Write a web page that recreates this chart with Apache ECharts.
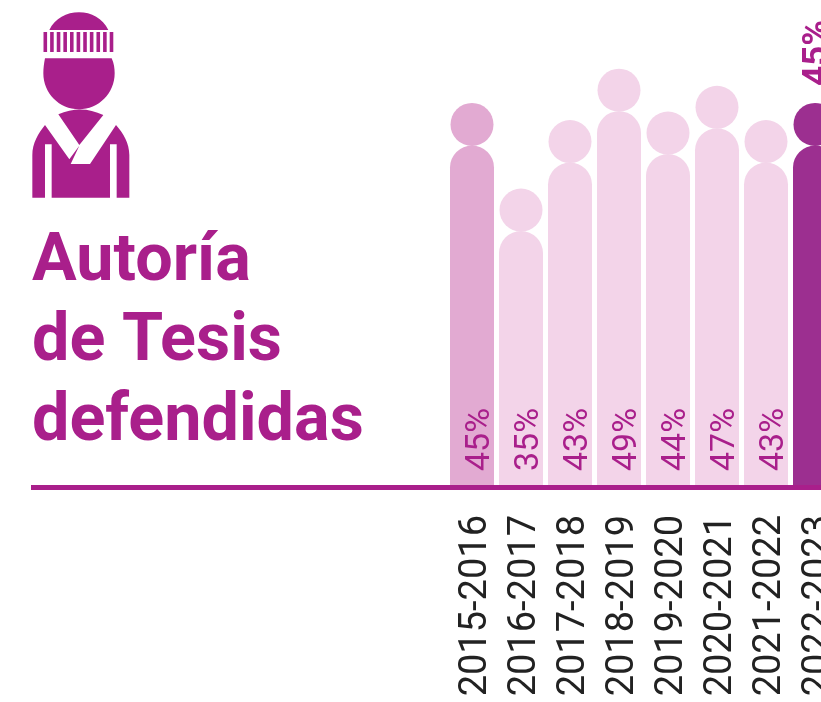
<!DOCTYPE html>
<html>
<head>
<meta charset="utf-8">
<style>
  html, body { margin: 0; background: #fff; }
  #main { width: 821px; height: 702px; }
</style>
<script src="https://cdn.jsdelivr.net/npm/echarts@6/dist/echarts.min.js"></script>
</head>
<body>
<div id="main"></div>
<script>
var years = ['2015-2016', '2016-2017', '2017-2018', '2018-2019', '2019-2020', '2020-2021', '2021-2022', '2022-2023'];
var values = [45, 35, 43, 49, 44, 47, 43, 45];
var barColors = ['#e2aad2', '#f3d4e9', '#f3d4e9', '#f3d4e9', '#f3d4e9', '#f3d4e9', '#f3d4e9', '#9c2f90'];
var titleLines = ['Autoría', 'de Tesis', 'defendidas'];

var purple = '#a91f8b';

// icono de la persona, coordenadas del recorte x3
var iconPath =
    'M88 90 C105 55 140 37 177 37 C214 37 248 55 265 90 Z ' +
    'M75 175 L275 175 C282 190 284 205 284 220 C284 280 236 328 177 328 C118 328 70 280 70 220 C70 205 72 190 75 175 Z ' +
    'M115 343 C160 323 205 323 250 345 L178 435 Z ' +
    'M75 375 L148 478 L178 437 L152 492 L210 492 L288 375 C310 400 328 430 328 465 L328 593 L290 593 L290 433 L270 433 L270 593 L95 593 L95 433 L75 433 L75 593 L37 593 L37 465 C37 430 55 400 75 375 Z';

echarts.graphic.registerShape('personIcon', echarts.graphic.extendPath(iconPath, {}));

var stripes = [];
for (var i = 0; i < 11; i++) {
    stripes.push({
        type: 'rect',
        x: 43.5 + i * 6.62,
        y: 32,
        shape: { width: 3.6, height: 20 },
        style: { fill: purple }
    });
}

var chart = echarts.init(document.getElementById('main'));
chart.setOption({
    animation: false,
    backgroundColor: '#fff',
    textStyle: { fontFamily: 'Roboto' },
    title: {
        text: titleLines.join('\n'),
        left: 27,
        top: 218,
        textStyle: { color: purple, fontFamily: 'Roboto', fontSize: 66.5, fontWeight: 'bold', lineHeight: 80 }
    },
    grid: { left: 447.5, top: 17, width: 392, height: 471, outerBoundsMode: 'none' },
    xAxis: {
        type: 'category',
        data: years,
        axisLine: { show: false },
        axisTick: { show: false },
        axisLabel: {
            interval: 0,
            rotate: 90,
            margin: 27,
            verticalAlign: 'top',
            lineHeight: 8,
            color: '#222',
            fontFamily: 'Roboto',
            fontSize: 38
        }
    },
    yAxis: { type: 'value', min: 5, max: 60, show: false },
    series: [
        {
            type: 'bar',
            barWidth: 44,
            data: values.map(function (v, i) {
                return {
                    value: v,
                    itemStyle: { color: barColors[i], borderRadius: [22, 22, 0, 0] },
                    label: {
                        show: i < values.length - 1,
                        position: 'insideBottom',
                        rotate: 90,
                        align: 'left',
                        verticalAlign: 'middle',
                        distance: 17,
                        offset: [0, 8],
                        color: purple,
                        fontFamily: 'Roboto',
                        fontWeight: 400,
                        fontSize: 34,
                        formatter: '{c}%'
                    }
                };
            })
        },
        {
            type: 'scatter',
            symbol: 'circle',
            symbolSize: 43,
            symbolOffset: [0, -21],
            z: 3,
            data: values.map(function (v, i) {
                return {
                    value: [i, v],
                    itemStyle: { color: barColors[i], opacity: 1 },
                    label: {
                        show: i === values.length - 1,
                        position: 'top',
                        rotate: 90,
                        align: 'left',
                        verticalAlign: 'middle',
                        distance: 17,
                        offset: [0, 3],
                        color: purple,
                        fontFamily: 'Roboto',
                        fontWeight: 'bold',
                        fontSize: 35,
                        formatter: v + '%'
                    }
                };
            })
        }
    ],
    graphic: [
        { type: 'rect', x: 31, y: 485, z: 10, shape: { width: 790, height: 5 }, style: { fill: purple } },
        { type: 'personIcon', x: 20, y: 0, scaleX: 1 / 3, scaleY: 1 / 3, style: { fill: purple } }
    ].concat(stripes)
});
</script>
</body>
</html>
